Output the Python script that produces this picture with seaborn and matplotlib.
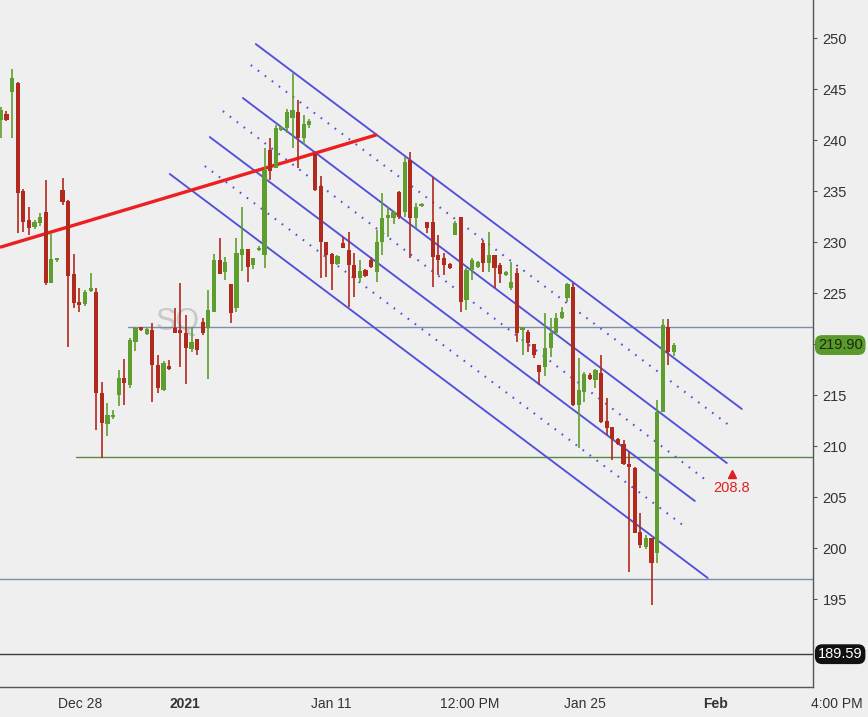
import matplotlib
matplotlib.use("Agg")
import matplotlib.pyplot as plt
import matplotlib.transforms as mtransforms
from matplotlib import font_manager
import numpy as np
import pandas as pd
import seaborn as sns

# candle data (bar index = position in list)
opens = [242.0, 242.6, 244.7, 245.6, 235.0, 232.2, 231.5, 231.9, 232.9, 226.0,
         228.2, 235.1, 234.0, 226.9, 224.1, 223.9, 225.2, 225.1, 215.2, 212.2,
         212.8, 215.0, 216.7, 216.0, 220.2,
         221.6, 221.0, 221.4, 217.9, 215.5, 217.8, 221.6, 221.2, 221.1, 219.5,
         220.5, 222.2, 221.6, 223.1, 228.2, 227.1, 225.9, 223.5, 228.7, 229.3,
         227.7, 229.2,
         228.7, 239.0, 237.3, 241.0, 241.2, 242.2, 242.7, 240.2, 241.5, 238.6,
         235.5, 230.0, 228.8, 227.8, 229.9, 229.2, 227.7, 226.5, 227.3, 228.2,
         227.1, 230.0, 232.4, 232.4, 234.9,
         232.9, 238.0, 232.4, 233.5, 232.0, 232.0, 228.7, 228.4, 227.8, 230.7,
         232.5, 224.3, 227.3, 227.6, 229.9, 227.9, 228.7, 227.7, 226.8, 225.5,
         227.0,
         221.4, 221.2, 220.0, 217.9, 217.7, 219.6, 221.1, 222.6, 224.5, 225.6,
         214.0, 215.3, 217.0, 216.5, 217.2, 212.5, 211.9, 210.7, 210.2, 208.2,
         207.8, 201.6, 200.1, 201.0, 199.5, 213.3, 221.7, 219.2]
highs = [243.2, 242.8, 247.0, 245.7, 235.2, 233.4, 232.2, 232.8, 236.1, 230.9,
         228.4, 236.3, 234.1, 228.8, 225.5, 225.3, 227.0, 225.5, 216.3, 214.2,
         213.5, 217.5, 218.5, 220.6, 221.7,
         221.7, 221.6, 222.1, 218.9, 218.3, 218.4, 223.5, 226.0, 222.8, 221.7,
         220.5, 222.6, 225.3, 228.8, 230.4, 228.5, 225.9, 230.4, 233.4, 229.3,
         228.4, 229.6,
         239.2, 240.2, 241.5, 241.4, 243.0, 246.6, 243.9, 242.5, 242.1, 238.7,
         236.5, 230.0, 228.9, 228.7, 230.5, 231.0, 228.9, 228.2, 227.4, 228.5,
         231.2, 234.8, 233.4, 233.0, 235.0,
         238.3, 238.8, 233.8, 233.8, 232.0, 236.4, 230.7, 228.9, 227.9, 232.1,
         232.5, 227.5, 228.4, 228.1, 230.2, 231.0, 228.7, 227.9, 227.2, 228.0,
         227.5,
         221.7, 221.4, 220.0, 217.9, 223.0, 222.6, 223.0, 223.6, 226.0, 226.0,
         218.6, 217.3, 217.2, 217.6, 218.9, 214.7, 211.9, 210.8, 210.6, 209.4,
         207.9, 203.4, 201.3, 201.0, 214.5, 222.5, 222.5, 220.1]
lows = [240.2, 241.9, 240.2, 230.9, 231.0, 230.7, 231.3, 231.6, 225.8, 226.0,
        228.0, 233.6, 219.7, 223.5, 223.1, 223.7, 225.1, 211.6, 208.8, 211.0,
        212.6, 213.9, 214.0, 215.7, 219.3,
        221.3, 220.9, 214.3, 215.2, 215.4, 217.5, 221.1, 217.7, 216.1, 219.2,
        218.9, 220.9, 216.6, 223.1, 226.9, 226.3, 222.1, 223.1, 227.2, 226.1,
        227.4, 229.1,
        227.5, 236.1, 237.3, 240.9, 240.7, 239.2, 237.3, 239.5, 241.2, 235.0,
        226.5, 226.6, 225.3, 227.7, 229.4, 223.6, 224.6, 226.1, 226.6, 227.5,
        226.1, 228.7, 230.5, 231.8, 232.3,
        232.5, 228.4, 231.4, 233.4, 230.9, 225.6, 226.8, 226.8, 227.4, 230.7,
        223.1, 223.3, 226.3, 227.5, 227.1, 227.1, 225.5, 226.0, 226.7, 225.3,
        220.2,
        218.9, 219.2, 218.6, 216.0, 216.9, 218.7, 220.9, 222.5, 224.1, 213.9,
        209.8, 214.3, 216.5, 215.7, 212.3, 211.1, 208.6, 210.1, 208.1, 197.6,
        201.5, 200.0, 199.9, 194.4, 198.5, 213.3, 217.9, 218.8]
closes = [242.9, 242.0, 246.1, 234.8, 232.0, 231.4, 232.0, 232.5, 226.0, 228.3,
          228.3, 233.9, 226.7, 224.0, 223.8, 225.1, 225.4, 215.2, 212.3, 213.0,
          213.0, 216.7, 216.2, 220.4, 221.6,
          221.4, 221.5, 217.9, 215.7, 218.1, 217.6, 221.1, 221.1, 219.6, 220.2,
          219.4, 221.1, 223.3, 228.2, 226.9, 228.0, 223.0, 228.9, 229.3, 227.6,
          228.4, 229.3,
          237.1, 237.0, 241.2, 241.3, 242.7, 242.9, 240.2, 241.6, 241.9, 235.1,
          230.0, 228.7, 227.8, 228.6, 229.4, 227.7, 226.5, 227.2, 226.7, 227.6,
          230.0, 232.4, 232.6, 232.9, 232.5,
          237.8, 232.4, 233.4, 233.6, 231.4, 228.5, 228.2, 227.7, 227.5, 231.9,
          224.1, 227.3, 228.2, 228.0, 227.9, 228.7, 227.5, 226.9, 227.1, 226.1,
          221.1,
          221.6, 220.1, 218.9, 217.3, 219.6, 221.1, 222.6, 223.1, 225.9, 214.0,
          215.5, 217.1, 216.6, 217.5, 212.4, 211.8, 210.7, 210.2, 208.2, 207.9,
          201.5, 200.3, 201.0, 198.5, 213.3, 221.9, 219.2, 219.9]

# channel lines: (bar0, price0, bar1, price1, dotted?)
channel = [
    (45.45, 249.41, 132.09, 213.63, False),
    (44.56, 247.35, 130.48, 211.76, True),
    (43.14, 244.12, 129.41, 208.33, False),
    (39.57, 242.84, 125.67, 206.67, True),
    (37.25, 240.29, 123.71, 204.61, False),
    (36.36, 237.45, 122.28, 201.96, True),
    (30.12, 236.67, 126.02, 197.06, False),
]
red_line = ([0.0, 66.84], [229.51, 240.49])

# horizontal levels: (price, start bar, colour)
levels = [(221.7, 22.6, "#7e8ea8"), (208.9, 13.4, "#558a40"),
          (197.0, -1.0, "#7e8ea8"), (189.59, -1.0, "#3a3a3a")]

tick_pos = [10.19, 30.15, 55.29, 78.28, 100.38, 125.16, 144.41]
tick_labels = ["Dec 28", "2021", "Jan 11", "12:00 PM", "Jan 25", "Feb", "4:00 PM"]
bold_ticks = ["2021", "Feb"]
price_ticks = [195, 200, 205, 210, 215, 220, 225, 230, 235, 240, 245, 250]

df = pd.DataFrame({"open": opens, "high": highs, "low": lows, "close": closes})
df["bar"] = np.arange(len(df))

sns.set_style("white")
names = {f.name for f in font_manager.fontManager.ttflist}
narrow = "Liberation Sans Narrow" if "Liberation Sans Narrow" in names else "Liberation Sans"
plt.rcParams["font.family"] = ["Liberation Sans", "DejaVu Sans"]

bg = "#efefef"
green = "#5e9e2e"
red = "#b02a1e"
blue = "#5050dc"

fig = plt.figure(figsize=(8.68, 7.17), dpi=100, facecolor=bg)
ax = fig.add_axes([0.0, 0.0418, 0.9366, 0.9582])
ax.set_facecolor(bg)

# watermark
ax.text(31.6, 222.2, "SQ", fontsize=22, color="#c9c9c9", ha="center",
        va="center", zorder=0)

for price, start, col in levels:
    sns.lineplot(x=[start, 150], y=[price, price], ax=ax, color=col,
                 linewidth=1.0, zorder=1)

for b0, p0, b1, p1, dotted in channel:
    if dotted:
        sns.lineplot(x=[b0, b1], y=[p0, p1], ax=ax, color=blue, linewidth=1.5,
                     linestyle=(0, (0.8, 3.4)), zorder=2)
    else:
        sns.lineplot(x=[b0, b1], y=[p0, p1], ax=ax, color=blue, linewidth=1.35,
                     zorder=2)

sns.lineplot(x=red_line[0], y=red_line[1], ax=ax, color="#ec2020",
             linewidth=2.4, zorder=3)

# candles
up = df["close"] >= df["open"]
cols = np.where(up, green, red)
ax.vlines(df["bar"], df["low"], df["high"], colors=cols, linewidth=1.2, zorder=4)
body_lo = np.minimum(df["open"], df["close"])
body_h = np.maximum((df["close"] - df["open"]).abs(), 0.25)
ax.bar(df["bar"], body_h, bottom=body_lo, width=0.74, color=cols,
       linewidth=0, zorder=5)

# 208.8 alert marker
ax.plot([130.3], [207.3], marker="^", color="#e02020", markersize=6, zorder=6)
ax.text(130.3, 205.9, "208.8", color="#e02020", fontsize=10.5, ha="center",
        va="center", zorder=6)

ax.set_xlim(-0.15, 144.77)
ax.set_ylim(186.37, 253.73)
ax.set_xlabel("")
ax.set_ylabel("")

ax.yaxis.tick_right()
ax.set_yticks(price_ticks)
# the 220 label sits under the last-price badge
ax.set_yticklabels(["" if p == 220 else str(p) for p in price_ticks])
ax.tick_params(axis="y", direction="out", length=3, pad=4, labelsize=10.5,
               labelcolor="#333333", color="#555555", right=True, left=False)
for lab in ax.get_yticklabels():
    lab.set_horizontalalignment("left")

ax.set_xticks(tick_pos)
ax.set_xticklabels(tick_labels)
ax.tick_params(axis="x", direction="out", length=5, pad=2, labelsize=10,
               labelcolor="#333333", color="#555555")
for lab in ax.get_xticklabels():
    lab.set_horizontalalignment("left")
    lab.set_fontfamily(narrow)
    if lab.get_text() in bold_ticks:
        lab.set_fontweight("bold")

for side in ["left", "top"]:
    ax.spines[side].set_visible(False)
for side in ["right", "bottom"]:
    ax.spines[side].set_color("#555555")
    ax.spines[side].set_linewidth(1.0)

# price badges on the right axis
trans = mtransforms.blended_transform_factory(ax.transAxes, ax.transData)
ax.text(1.006, 219.9, "219.90", transform=trans, fontsize=10.5, color="#1c2a10",
        va="center", ha="left", clip_on=False,
        bbox=dict(boxstyle="round,pad=0.2,rounding_size=0.5", fc="#5a9a2a", ec="none"))
ax.text(1.006, 189.59, "189.59", transform=trans, fontsize=10.5, color="white",
        va="center", ha="left", clip_on=False,
        bbox=dict(boxstyle="round,pad=0.2,rounding_size=0.5", fc="#111111", ec="none"))

fig.savefig("out.png", dpi=100, facecolor=bg)
